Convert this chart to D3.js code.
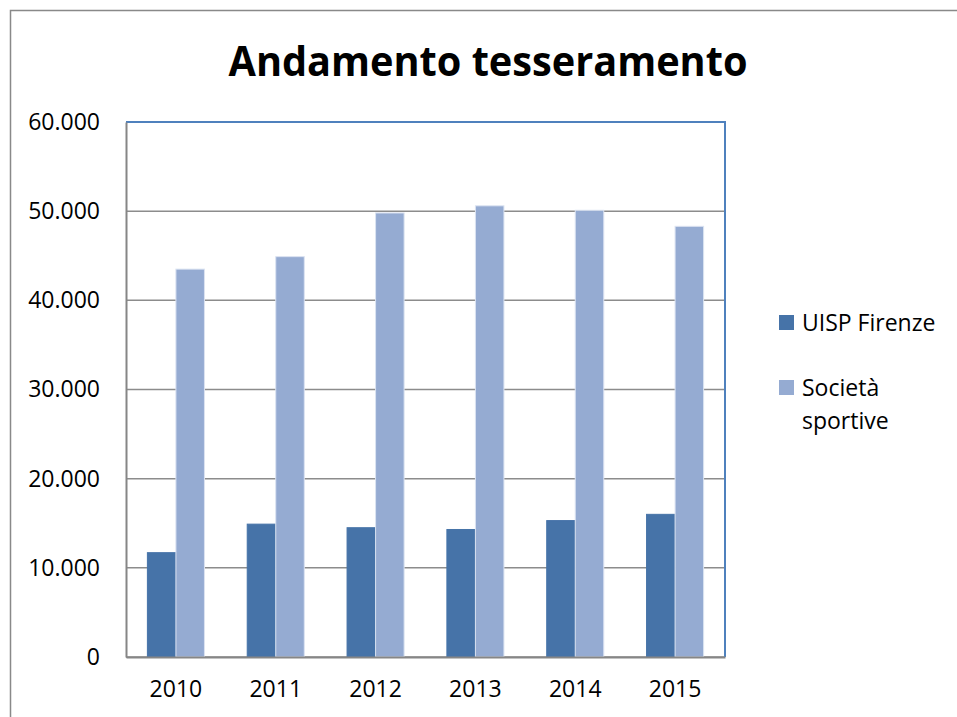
<!DOCTYPE html>
<html>
<head>
<meta charset="utf-8">
<script src="https://cdn.jsdelivr.net/npm/d3@7"></script>
<style>
  body { margin: 0; background: #fff; }
  text { font-family: "Open Sans", "Noto Sans", sans-serif; fill: #000; }
</style>
</head>
<body>
<div id="okvir"></div>
<script>
// dati
var anni = ["2010", "2011", "2012", "2013", "2014", "2015"];
var serie = ["UISP Firenze", "Società sportive"];
var uispFirenze = [11700, 14900, 14500, 14300, 15300, 16000];
var societaSportive = [43500, 44900, 49800, 50600, 50100, 48300];
var yTicks = [0, 10000, 20000, 30000, 40000, 50000, 60000];
var colori = ["#4673a8", "#95abd2"];

function disegnaGrafico() {
    var width = 957;
    var height = 717;
    var margin = { top: 122, right: 232, bottom: 60, left: 126 };

    var svg = d3.select("#okvir")
        .append("svg")
        .attr("width", width)
        .attr("height", height);

    // cornice esterna (esce dalla pagina a destra e in basso)
    svg.append("rect")
        .attr("x", 10.5)
        .attr("y", 10.5)
        .attr("width", width + 20)
        .attr("height", height + 20)
        .attr("fill", "none")
        .attr("stroke", "#898989")
        .attr("stroke-width", 1.5);

    // titolo
    svg.append("text")
        .attr("x", 488)
        .attr("y", 76)
        .attr("text-anchor", "middle")
        .attr("textLength", 519)
        .attr("lengthAdjust", "spacingAndGlyphs")
        .style("font-size", "42px")
        .style("font-weight", "bold")
        .text("Andamento tesseramento");

    var x0 = d3.scaleBand()
        .domain(anni)
        .range([margin.left, width - margin.right]);

    var x1 = d3.scaleBand()
        .domain(serie)
        .range([0, x0.bandwidth()])
        .paddingOuter(0.75);

    var y = d3.scaleLinear()
        .domain([0, 60000])
        .range([height - margin.bottom, margin.top]);

    // griglia orizzontale
    svg.append("g")
        .selectAll("line")
        .data(yTicks)
        .enter()
        .append("line")
        .attr("x1", margin.left)
        .attr("x2", width - margin.right)
        .attr("y1", d => y(d))
        .attr("y2", d => y(d))
        .attr("stroke", "#8c8c8c")
        .attr("stroke-width", 1.5);

    // bordo dell'area del grafico (alto e destra)
    svg.append("path")
        .attr("d", "M" + margin.left + "," + y(60000) + "H" + (width - margin.right) + "V" + y(0))
        .attr("fill", "none")
        .attr("stroke", "#4f81bd")
        .attr("stroke-width", 2);

    // barre
    var dati = anni.map((a, i) => ({ anno: a, valori: [uispFirenze[i], societaSportive[i]] }));

    svg.append("g")
        .selectAll("g")
        .data(dati)
        .enter()
        .append("g")
        .attr("transform", d => "translate(" + x0(d.anno) + ",0)")
        .selectAll("rect")
        .data(d => d.valori.map((v, j) => ({ serie: serie[j], valore: v, j: j })))
        .enter()
        .append("rect")
        .attr("x", d => x1(d.serie))
        .attr("y", d => y(d.valore))
        .attr("width", x1.bandwidth())
        .attr("height", d => y(0) - y(d.valore))
        .attr("fill", d => colori[d.j])
        .attr("stroke", d => d.j === 0 ? "#4673a8" : "#dbe3f1")
        .attr("stroke-width", 1);

    // asse y
    var assey = svg.append("g")
        .attr("transform", "translate(" + margin.left + ",0)")
        .call(d3.axisLeft(y)
            .tickValues(yTicks)
            .tickSize(0)
            .tickPadding(26)
            .tickFormat(d => d3.format(",")(d).replace(/,/g, ".")));
    assey.select(".domain").attr("stroke", "#868686").attr("stroke-width", 2);
    assey.selectAll("text").style("font-size", "23px");

    // asse x
    var assex = svg.append("g")
        .attr("transform", "translate(0," + y(0) + ")")
        .call(d3.axisBottom(x0).tickSize(0).tickPadding(24));
    assex.select(".domain").attr("stroke", "#868686").attr("stroke-width", 2);
    assex.selectAll("text").style("font-size", "23px");

    // legenda
    var legenda = svg.append("g");
    var righe = [["UISP Firenze"], ["Società", "sportive"]];
    var yLeg = [315, 380];

    legenda.selectAll("rect")
        .data(serie)
        .enter()
        .append("rect")
        .attr("x", 779)
        .attr("y", (d, i) => yLeg[i])
        .attr("width", 15)
        .attr("height", 15)
        .attr("fill", (d, i) => colori[i]);

    legenda.selectAll("text")
        .data(righe)
        .enter()
        .append("text")
        .attr("x", 802)
        .attr("y", (d, i) => yLeg[i] + 16)
        .style("font-size", "23px")
        .selectAll("tspan")
        .data(d => d)
        .enter()
        .append("tspan")
        .attr("x", 802)
        .attr("dy", (d, i) => i === 0 ? 0 : 33)
        .text(d => d);
}
disegnaGrafico();
</script>
</body>
</html>
